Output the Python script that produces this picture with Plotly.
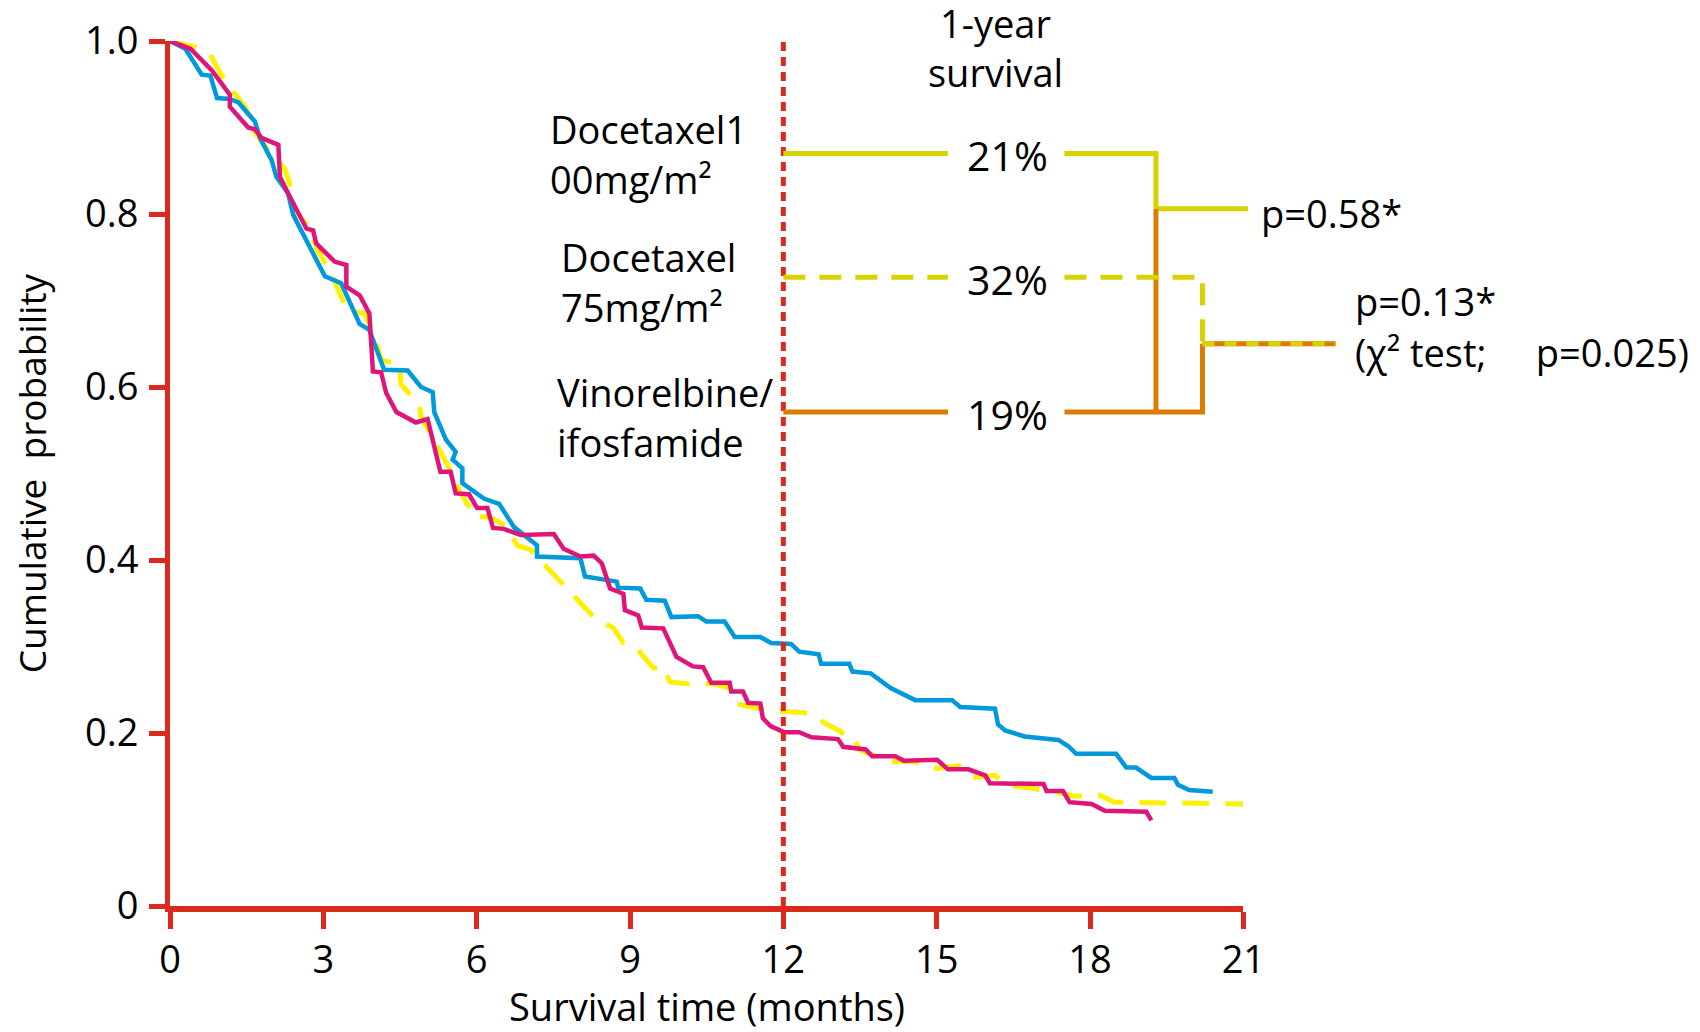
import plotly.graph_objects as go

# ---------------- data ----------------
blue_t = [0, 0.30, 0.62, 0.79, 0.92, 1.17, 1.34, 1.66, 1.76, 1.99, 2.08, 2.31, 2.41, 3.03, 3.35, 3.71, 3.90,
          4.19, 4.65, 4.91, 5.14, 5.17, 5.40, 5.59, 5.53, 5.72, 5.72, 6.14, 6.44, 6.73, 7.18, 7.18, 8.03, 8.12,
          8.74, 8.77, 9.20, 9.32, 9.68, 9.81, 10.33, 10.49, 10.85, 11.05, 11.55, 11.76, 12.15, 12.31, 12.69,
          12.74, 13.29, 13.35, 13.71, 14.10, 14.58, 15.30, 15.46, 16.14, 16.20, 16.34, 16.72, 17.38, 17.57,
          17.73, 18.51, 18.71, 18.90, 19.20, 19.65, 19.72, 19.94, 20.40]
blue_s = [1.0, 0.991, 0.961, 0.960, 0.934, 0.933, 0.929, 0.907, 0.888, 0.862, 0.843, 0.824, 0.799, 0.728, 0.720,
          0.673, 0.666, 0.620, 0.619, 0.600, 0.594, 0.571, 0.539, 0.525, 0.516, 0.506, 0.489, 0.471, 0.465, 0.438,
          0.417, 0.404, 0.402, 0.381, 0.375, 0.368, 0.367, 0.354, 0.353, 0.334, 0.335, 0.329, 0.329, 0.311, 0.311,
          0.304, 0.303, 0.294, 0.291, 0.280, 0.280, 0.271, 0.269, 0.252, 0.238, 0.238, 0.230, 0.228, 0.210, 0.203,
          0.196, 0.192, 0.185, 0.176, 0.176, 0.160, 0.160, 0.148, 0.148, 0.140, 0.134, 0.132]

mag_t = [0, 0.40, 0.82, 1.17, 1.17, 1.53, 1.66, 1.79, 2.12, 2.15, 2.31, 2.67, 2.80, 2.86, 3.22, 3.45, 3.45, 3.71,
         3.90, 3.97, 4.13, 4.23, 4.43, 4.81, 5.04, 5.29, 5.49, 5.59, 5.85, 6.01, 6.21, 6.32, 6.53, 6.86, 7.51,
         7.70, 8.03, 8.29, 8.45, 8.61, 8.87, 8.90, 9.16, 9.23, 9.65, 9.91, 10.23, 10.43, 10.59, 10.95, 10.98,
         11.21, 11.31, 11.55, 11.60, 11.75, 12.01, 12.31, 12.55, 13.07, 13.17, 13.61, 13.74, 14.19, 14.36,
         15.01, 15.22, 15.62, 15.95, 16.04, 17.09, 17.15, 17.47, 17.60, 18.03, 18.29, 19.10, 19.20]
mag_s = [1.0, 0.991, 0.966, 0.938, 0.924, 0.900, 0.898, 0.888, 0.880, 0.843, 0.824, 0.783, 0.781, 0.766, 0.745,
         0.741, 0.716, 0.706, 0.685, 0.618, 0.617, 0.593, 0.571, 0.559, 0.563, 0.502, 0.502, 0.477, 0.476, 0.460,
         0.460, 0.437, 0.436, 0.429, 0.430, 0.413, 0.404, 0.405, 0.396, 0.367, 0.361, 0.342, 0.336, 0.322, 0.321,
         0.288, 0.277, 0.276, 0.258, 0.258, 0.248, 0.248, 0.235, 0.234, 0.217, 0.208, 0.201, 0.201, 0.195, 0.193,
         0.184, 0.181, 0.173, 0.173, 0.168, 0.169, 0.158, 0.158, 0.151, 0.142, 0.141, 0.133, 0.133, 0.120, 0.118,
         0.110, 0.109, 0.099]

yel_t = [0, 0.49, 0.79, 0.98, 1.24, 1.47, 1.66, 1.86, 2.25, 2.34, 2.44, 2.70, 2.89, 3.16, 3.35, 3.51, 3.81, 4.03,
         4.13, 4.49, 4.52, 4.78, 4.88, 4.91, 5.17, 5.43, 5.65, 5.85, 5.94, 6.24, 6.59, 6.79, 7.05, 7.44, 8.03,
         8.29, 8.68, 8.87, 9.13, 9.26, 9.46, 9.65, 9.78, 10.10, 10.62, 10.95, 11.08, 11.21, 11.63, 12.02, 12.51,
         12.85, 13.12, 13.22, 13.35, 13.51, 13.71, 14.07, 14.55, 15.01, 15.43, 15.75, 16.14, 16.37, 16.86, 17.31,
         17.70, 18.19, 18.48, 19.81, 20.66, 21.0]
yel_s = [1.0, 0.993, 0.984, 0.963, 0.941, 0.924, 0.895, 0.878, 0.852, 0.835, 0.805, 0.785, 0.758, 0.731, 0.704,
         0.687, 0.685, 0.654, 0.631, 0.627, 0.603, 0.585, 0.579, 0.566, 0.537, 0.510, 0.481, 0.462, 0.450, 0.450,
         0.439, 0.417, 0.412, 0.388, 0.352, 0.334, 0.321, 0.304, 0.298, 0.288, 0.275, 0.277, 0.259, 0.257, 0.257,
         0.252, 0.234, 0.232, 0.227, 0.225, 0.223, 0.210, 0.202, 0.195, 0.195, 0.180, 0.175, 0.167, 0.167, 0.159,
         0.162, 0.149, 0.151, 0.140, 0.136, 0.132, 0.127, 0.128, 0.120, 0.119, 0.119, 0.118]

x_ticks = [0, 3, 6, 9, 12, 15, 18, 21]
y_ticks = [0, 0.2, 0.4, 0.6, 0.8, 1.0]
y_ticktext = ["0", "0.2", "0.4", "0.6", "0.8", "1.0"]

one_year = 12
group_labels = [["Docetaxel1", "00mg/m²"], ["Docetaxel", "75mg/m²"], ["Vinorelbine/", "ifosfamide"]]
bracket_levels = [0.870, 0.727, 0.571]          # heights of the 1-year bracket lines
bracket_pct = ["21%", "32%", "19%"]
p_texts = ["p=0.58*", "p=0.13*", "(χ² test;\u00a0\u00a0\u00a0\u00a0 p=0.025)"]

# ---------------- styles ----------------
RED = "#DC291E"
BLUE = "#0099DC"
MAG = "#E0157A"
YEL = "#FFF000"
OLIVE = "#D6D300"
ORANGE = "#D97C00"
FONT = "Open Sans"
FS = 38

KX = 1 / 0.9913            # horizontal correction observed in the rendered page
W, H = 1700, 1032
PH = 865
L, T = round(168 * KX, 1), 41
B = H - T - PH
R = 10
pw = W - L - R
main_w = 1080 * KX
px_per_month = main_w / 21.0
x2max = pw / px_per_month

fig = go.Figure()

fig.add_trace(go.Scatter(x=yel_t, y=yel_s, mode="lines",
                         line=dict(color=YEL, width=5, dash="27px,16px")))
fig.add_trace(go.Scatter(x=blue_t, y=blue_s, mode="lines", line=dict(color=BLUE, width=4.5)))
fig.add_trace(go.Scatter(x=mag_t, y=mag_s, mode="lines", line=dict(color=MAG, width=4.5)))

# vertical 1-year line
fig.add_trace(go.Scatter(x=[one_year, one_year], y=[0, 1.0], mode="lines",
                         line=dict(color=RED, width=5, dash="9px,6px")))

# ---------------- brackets (on overlay axis x2, same month units) ----------------
gap_a, gap_b = 15.22, 17.50
xv1, xv2 = 19.29, 20.20
xp1, xp2 = 21.09, 22.81
lv_a, lv_b, lv_c = bracket_levels
mid1 = 0.806
mid2 = 0.650

def seg(xs, ys, color, dash=None, width=5):
    fig.add_trace(go.Scatter(x=xs, y=ys, mode="lines", xaxis="x2", yaxis="y",
                             line=dict(color=color, width=width, dash=dash), hoverinfo="skip"))

# 21% (solid olive)
seg([one_year, gap_a], [lv_a, lv_a], OLIVE)
seg([gap_b, xv1, xv1], [lv_a, lv_a, mid1], OLIVE)
seg([xv1, xp1], [mid1, mid1], OLIVE)
# 19% (orange)
seg([one_year, gap_a], [lv_c, lv_c], ORANGE)
seg([gap_b, xv2, xv2], [lv_c, lv_c, mid2], ORANGE)
seg([xv1, xv1], [lv_c, mid1], ORANGE)
# 32% (dashed olive)
seg([one_year, gap_a], [lv_b, lv_b], OLIVE, dash="22px,14px")
seg([gap_b, xv2, xv2], [lv_b, lv_b, mid2], OLIVE, dash="22px,14px")
seg([xv2, xp2], [mid2, mid2], ORANGE)
seg([xv2, xp2], [mid2, mid2], OLIVE, dash="12px,10px")

annotations = []
pct_x = 16.38
for lv, t in zip(bracket_levels, bracket_pct):
    annotations.append(dict(x=pct_x, y=lv, xref="x2", yref="y", text=t, showarrow=False,
                            xanchor="center", yanchor="middle", yshift=-2,
                            font=dict(family=FONT, size=41, color="black")))
annotations.append(dict(x=16.16, y=1.021, xref="x2", yref="paper", text="1-year", showarrow=False,
                        xanchor="center", yanchor="middle", font=dict(family=FONT, size=FS, color="black")))
annotations.append(dict(x=16.16, y=0.964, xref="x2", yref="paper", text="survival", showarrow=False,
                        xanchor="center", yanchor="middle", font=dict(family=FONT, size=FS, color="black")))
annotations.append(dict(x=21.31, y=0.801, xref="x2", yref="y", text=p_texts[0], showarrow=False,
                        xanchor="left", yanchor="middle", font=dict(family=FONT, size=FS, color="black")))
annotations.append(dict(x=23.15, y=0.700, xref="x2", yref="y", text=p_texts[1], showarrow=False,
                        xanchor="left", yanchor="middle", font=dict(family=FONT, size=FS, color="black")))
annotations.append(dict(x=23.15, y=0.640, xref="x2", yref="y", text=p_texts[2], showarrow=False,
                        xanchor="left", yanchor="middle", font=dict(family=FONT, size=FS, color="black")))

label_pos = [(7.40, 0.898, 0.840), (7.62, 0.750, 0.692), (7.54, 0.594, 0.536)]
for (lx, y1, y2), lines in zip(label_pos, group_labels):
    for yy, tx in zip((y1, y2), lines):
        annotations.append(dict(x=lx, y=yy, xref="x", yref="y", text=tx, showarrow=False,
                                xanchor="left", yanchor="middle",
                                font=dict(family=FONT, size=FS, color="black")))

# axis titles
annotations.append(dict(x=0.5, y=-(1006 - 906) / PH, xref="x domain", yref="paper",
                        text="Survival time (months)", showarrow=False, xanchor="center", yanchor="middle",
                        font=dict(family=FONT, size=FS, color="black")))
annotations.append(dict(x=-(L - 29 * KX) / pw, y=0.5, xref="paper", yref="paper",
                        text="Cumulative\u00a0\u00a0probability", textangle=-90, showarrow=False,
                        xanchor="center", yanchor="middle",
                        font=dict(family=FONT, size=37, color="black")))

fig.update_layout(
    width=W, height=H,
    margin=dict(l=L, r=R, t=T, b=B, pad=0),
    paper_bgcolor="white", plot_bgcolor="rgba(0,0,0,0)",
    showlegend=False,
    font=dict(family=FONT, size=FS, color="black"),
    annotations=annotations,
    xaxis=dict(domain=[0, main_w / pw], range=[0, 21], showline=True, linecolor=RED, linewidth=6,
               ticks="outside", ticklen=17, tickwidth=5, tickcolor=RED, tickvals=x_ticks,
               showgrid=False, zeroline=False, ticklabelstandoff=-2,
               tickfont=dict(family=FONT, size=FS, color="black")),
    xaxis2=dict(domain=[0, 1], range=[0, x2max], anchor="y", visible=False, showgrid=False, zeroline=False),
    yaxis=dict(range=[0, 1.0], showline=True, linecolor=RED, linewidth=5,
               ticks="outside", ticklen=16, tickwidth=5, tickcolor=RED,
               tickvals=y_ticks, ticktext=y_ticktext, showgrid=False, zeroline=False,
               ticklabelstandoff=3, tickfont=dict(family=FONT, size=FS, color="black")),
)

# remove the browser's default page margin so the 1700x1032 figure fills the window exactly
fig.write_html("out.html", config={"displayModeBar": False},
               post_script="document.body.style.margin='0';document.body.style.overflow='hidden';")
